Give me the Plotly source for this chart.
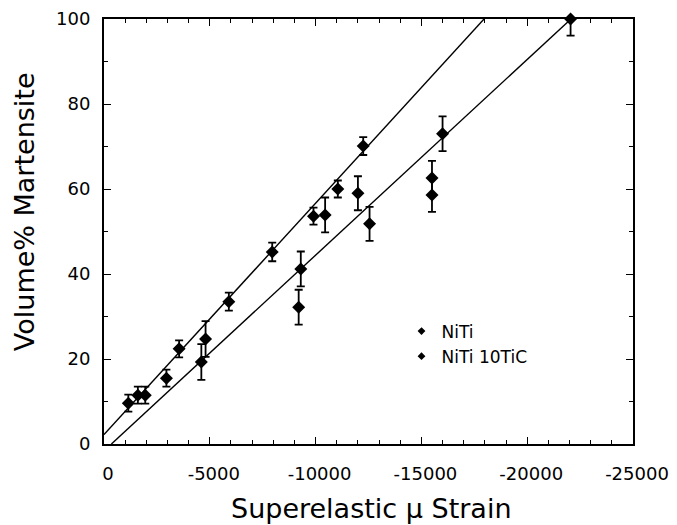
import plotly.graph_objects as go

# NiTi data
niti_x = [-1150, -1600, -1950, -2950, -3550, -4800, -5900, -7950, -9900, -10450, -11050, -12250]
niti_y = [9.6, 11.5, 11.5, 15.5, 22.4, 24.7, 33.5, 45.2, 53.6, 53.9, 60.0, 70.1]
niti_err = [2.0, 2.0, 2.0, 2.0, 2.0, 4.2, 2.1, 2.2, 2.0, 4.1, 2.0, 2.1]

# NiTi 10TiC data
tic_x = [-4600, -9200, -9300, -12000, -12550, -15500, -15500, -16000, -22050]
tic_y = [19.3, 32.2, 41.2, 59.0, 51.8, 62.6, 58.6, 73.0, 100.0]
tic_err_plus = [4.2, 4.1, 4.1, 4.0, 4.0, 4.0, 4.0, 4.1, 0.0]
tic_err_minus = [4.2, 4.1, 4.1, 4.0, 4.0, 4.0, 4.0, 4.1, 3.9]

# Linear fit lines
fit_niti_x = [0, -17960]
fit_niti_y = [2.2, 100]
fit_tic_x = [-350, -22070]
fit_tic_y = [0, 100]

x_tick_vals = [0, -5000, -10000, -15000, -20000, -25000]
x_tick_text = ["0", "-5000", "-10000", "-15000", "-20000", "-25000"]
y_tick_vals = [0, 20, 40, 60, 80, 100]

series_names = ["NiTi", "NiTi 10TiC"]
x_title = "Superelastic \u03bc Strain"
y_title = "Volume% Martensite"

FONT = "DejaVu Sans, Verdana, sans-serif"

fig = go.Figure()

for fx, fy in [(fit_niti_x, fit_niti_y), (fit_tic_x, fit_tic_y)]:
    fig.add_trace(go.Scatter(x=fx, y=fy, mode="lines",
                             line=dict(color="black", width=1.4), showlegend=False,
                             hoverinfo="skip"))

fig.add_trace(go.Scatter(
    x=niti_x, y=niti_y, mode="markers", name=series_names[0], showlegend=False,
    marker=dict(symbol="diamond", size=10, color="black"),
    error_y=dict(type="data", array=niti_err, color="black", thickness=1.8, width=4),
    cliponaxis=False))
fig.add_trace(go.Scatter(
    x=tic_x, y=tic_y, mode="markers", name=series_names[1], showlegend=False,
    marker=dict(symbol="diamond", size=10, color="black"),
    error_y=dict(type="data", symmetric=False, array=tic_err_plus,
                 arrayminus=tic_err_minus, color="black", thickness=1.8, width=4),
    cliponaxis=False))

# legend entries (smaller symbols, as in the reference legend)
for nm in series_names:
    fig.add_trace(go.Scatter(x=[None], y=[None], mode="markers", name=nm,
                             marker=dict(symbol="diamond", size=6, color="black")))

axis_common = dict(
    showline=True, linecolor="black", linewidth=2, mirror="ticks",
    ticks="inside", ticklen=7, tickwidth=1, tickcolor="black",
    showgrid=False, zeroline=False, automargin=False,
    tickfont=dict(family=FONT, size=18, color="black"),
)

fig.update_xaxes(
    range=[0, -25000], tickvals=x_tick_vals, ticktext=x_tick_text,
    minor=dict(dtick=1000, ticks="inside", ticklen=4, tickcolor="black", showgrid=False),
    ticklabelstandoff=12, ticklabelshift=-4,
    **axis_common)
fig.update_yaxes(
    range=[0, 100], tickvals=y_tick_vals,
    minor=dict(dtick=10, ticks="inside", ticklen=4, tickcolor="black", showgrid=False),
    ticklabelstandoff=8,
    **axis_common)

fig.add_annotation(text=x_title, xref="paper", yref="paper", x=0.505, y=-0.152,
                   xanchor="center", yanchor="middle", showarrow=False,
                   font=dict(family=FONT, size=27, color="black"))
fig.add_annotation(text=y_title, xref="paper", yref="paper", x=-0.149, y=0.546,
                   xanchor="center", yanchor="middle", textangle=-90, showarrow=False,
                   font=dict(family=FONT, size=27, color="black"))

fig.update_layout(
    width=669, height=517,
    margin=dict(l=96, r=44, t=11, b=81),
    plot_bgcolor="white", paper_bgcolor="white",
    legend=dict(x=0.5624, y=0.307, xanchor="left", yanchor="top",
                font=dict(family=FONT, size=17, color="black"),
                bgcolor="rgba(0,0,0,0)", itemwidth=30),
)

fig.write_html("out.html")
